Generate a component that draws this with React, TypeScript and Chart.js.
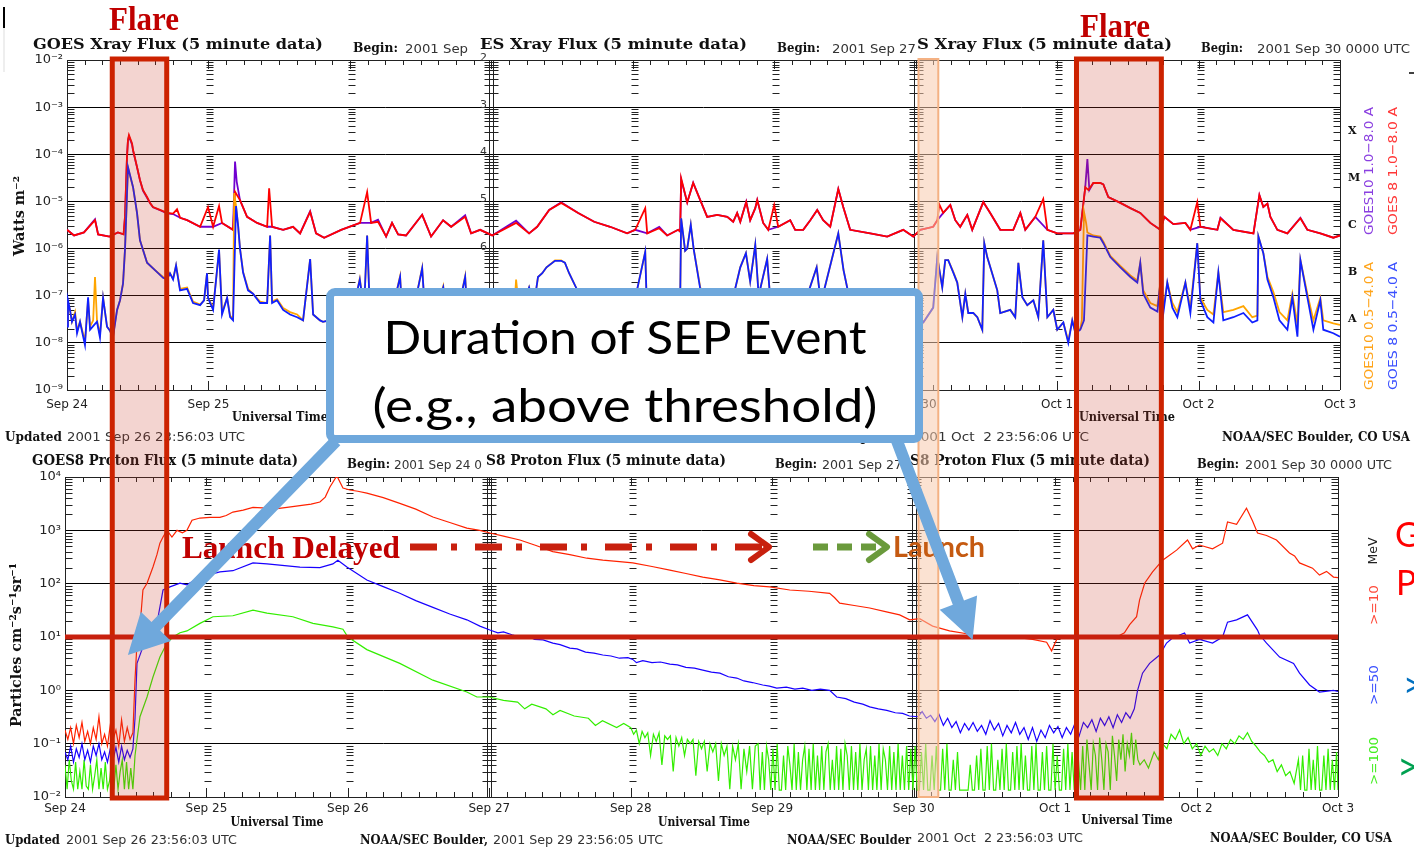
import React, { useEffect, useRef, useState } from 'react';
import { Chart, registerables } from 'chart.js';

Chart.register(...registerables);

type Pt = [number, number];

// ---------- axes / labels ----------
const dayTicks = [0, 1, 2, 3, 4, 5, 6, 7, 8, 9];
const dayLabels = ['Sep 24', 'Sep 25', 'Sep 26', 'Sep 27', 'Sep 28', 'Sep 29', 'Sep 30', 'Oct 1', 'Oct 2', 'Oct 3'];
const panelEdges = [0, 3, 6, 9];
const xrayDecades = [1e-9, 1e-8, 1e-7, 1e-6, 1e-5, 1e-4, 1e-3, 1e-2];
const xrayDecadeLabels = ['10⁻⁹', '10⁻⁸', '10⁻⁷', '10⁻⁶', '10⁻⁵', '10⁻⁴', '10⁻³', '10⁻²'];
const flareClassLevels = [3.16e-4, 3.16e-5, 3.16e-6, 3.16e-7, 3.16e-8];
const flareClassLabels = ['X', 'M', 'C', 'B', 'A'];
const protonDecades = [1e-2, 1e-1, 1, 10, 100, 1000, 1e4];
const protonDecadeLabels = ['10⁻²', '10⁻¹', '10⁰', '10¹', '10²', '10³', '10⁴'];

// ---------- annotation values (days since Sep 24 00 UT) ----------
const sepThreshold = 10;
const flareWindows: Pt[] = [[0.32, 0.705], [7.137, 7.737]];
const launchWindow: Pt = [6.02, 6.16];
const sepStart: Pt = [0.445, 4.6];
const sepEnd: Pt = [6.417, 8.8];

// ---------- GOES X-ray flux (W m^-2) ----------
const xrayG8Long: Pt[] = [
  [0, 2.5e-6], [0.05, 1.9e-6], [0.12, 2.2e-6], [0.198, 4.0e-6], [0.22, 2.0e-6], [0.3, 1.8e-6], [0.36, 2.2e-6], [0.4, 2.0e-6],
  [0.41, 4.7e-6], [0.424, 8.7e-5], [0.431, 2.0e-4], [0.438, 2.56e-4], [0.46, 1.7e-4], [0.467, 1.23e-4], [0.495, 5.4e-5],
  [0.516, 2.85e-5], [0.537, 1.75e-5], [0.566, 1.24e-5], [0.587, 9.3e-6], [0.608, 7.6e-6], [0.658, 6.6e-6], [0.707, 5.7e-6],
  [0.75, 5.5e-6], [0.778, 6.8e-6], [0.8, 4.5e-6], [0.849, 4.0e-6], [0.941, 2.9e-6], [0.997, 7.6e-6], [1.033, 2.9e-6],
  [1.075, 8.0e-6], [1.096, 3.5e-6], [1.174, 2.5e-6], [1.188, 1.6e-5], [1.223, 1.07e-5], [1.273, 4.7e-6], [1.344, 3.5e-6],
  [1.415, 2.9e-6], [1.429, 1.9e-5], [1.45, 2.9e-6], [1.528, 2.5e-6], [1.598, 2.9e-6], [1.648, 2.1e-6], [1.719, 6.0e-6],
  [1.761, 2.1e-6], [1.818, 1.7e-6], [1.938, 2.5e-6], [2.072, 3.5e-6], [2.122, 1.58e-5], [2.15, 3.5e-6], [2.199, 3.7e-6],
  [2.256, 1.8e-6], [2.298, 3.5e-6], [2.341, 2.0e-6], [2.397, 1.9e-6], [2.511, 5.2e-6], [2.574, 1.8e-6], [2.659, 4.0e-6],
  [2.716, 2.9e-6], [2.815, 4.7e-6], [2.857, 2.1e-6], [2.921, 2.5e-6], [3.006, 1.9e-6], [3.175, 3.5e-6], [3.267, 2.1e-6],
  [3.324, 2.9e-6], [3.409, 6.6e-6], [3.494, 9.3e-6], [3.614, 5.7e-6], [3.727, 3.7e-6], [3.84, 2.9e-6], [3.96, 2.1e-6],
  [4.017, 2.5e-6], [4.088, 7.2e-6], [4.102, 2.1e-6], [4.187, 2.7e-6], [4.243, 1.9e-6], [4.321, 2.5e-6], [4.335, 2.3e-6],
  [4.342, 3.1e-5], [4.385, 9.5e-6], [4.427, 2.46e-5], [4.477, 1.07e-5], [4.526, 4.7e-6], [4.597, 5.2e-6], [4.668, 4.7e-6],
  [4.71, 3.7e-6], [4.738, 5.7e-6], [4.76, 3.7e-6], [4.802, 9.7e-6], [4.83, 4.0e-6], [4.866, 7.2e-6], [4.88, 1.07e-5],
  [4.922, 3.5e-6], [4.958, 2.5e-6], [5.0, 8.4e-6], [5.028, 2.9e-6], [5.113, 4.0e-6], [5.148, 2.5e-6], [5.205, 2.5e-6],
  [5.255, 4.0e-6], [5.304, 6.6e-6], [5.346, 4.0e-6], [5.396, 2.9e-6], [5.453, 1.84e-5], [5.488, 7.6e-6], [5.537, 2.5e-6],
  [5.679, 2.1e-6], [5.799, 1.8e-6], [5.912, 2.5e-6], [5.983, 1.8e-6], [6.032, 2.5e-6], [6.124, 2.9e-6], [6.153, 4.0e-6],
  [6.167, 8.6e-6], [6.195, 5.7e-6], [6.245, 8.4e-6], [6.28, 4.0e-6], [6.315, 2.9e-6], [6.365, 5.2e-6], [6.4, 2.5e-6],
  [6.478, 9.7e-6], [6.527, 5.7e-6], [6.598, 2.5e-6], [6.69, 2.5e-6], [6.74, 5.7e-6], [6.775, 2.5e-6], [6.846, 4.7e-6],
  [6.902, 1.12e-5], [6.931, 2.5e-6], [7.001, 2.1e-6], [7.115, 2.1e-6], [7.164, 2.5e-6], [7.199, 2.0e-5], [7.221, 1.75e-5],
  [7.256, 2.46e-5], [7.305, 2.46e-5], [7.327, 2.3e-5], [7.362, 1.24e-5], [7.447, 9.3e-6], [7.518, 7.2e-6], [7.588, 5.7e-6],
  [7.659, 3.5e-6], [7.73, 2.5e-6], [7.758, 4.7e-6], [7.822, 3.3e-6], [7.907, 3.5e-6], [7.942, 2.5e-6], [7.991, 9.7e-6],
  [8.013, 2.9e-6], [8.133, 2.5e-6], [8.155, 4.4e-6], [8.246, 2.5e-6], [8.388, 2.1e-6], [8.43, 1.37e-5], [8.458, 7.6e-6],
  [8.487, 9.0e-6], [8.508, 4.7e-6], [8.557, 2.5e-6], [8.628, 2.1e-6], [8.72, 4.4e-6], [8.769, 2.5e-6], [8.861, 2.1e-6],
  [8.953, 1.7e-6], [9.0, 1.9e-6],
];

const xrayG10Long: Pt[] = [
  [0, 2.5e-6], [0.05, 1.9e-6], [0.12, 2.2e-6], [0.198, 4.2e-6], [0.22, 2.0e-6], [0.3, 1.8e-6], [0.36, 2.2e-6], [0.4, 2.0e-6],
  [0.41, 4.7e-6], [0.424, 8.7e-5], [0.431, 2.0e-4], [0.438, 2.4e-4], [0.46, 1.6e-4], [0.467, 1.2e-4], [0.495, 5.3e-5],
  [0.516, 2.8e-5], [0.537, 1.7e-5], [0.566, 1.2e-5], [0.587, 9.2e-6], [0.608, 7.5e-6], [0.658, 6.5e-6], [0.707, 5.6e-6],
  [0.75, 5.4e-6], [0.8, 4.5e-6], [0.849, 4.0e-6], [0.941, 2.9e-6], [1.033, 2.9e-6], [1.096, 3.5e-6], [1.174, 2.5e-6],
  [1.188, 7.0e-5], [1.2, 2.6e-5], [1.223, 1.07e-5], [1.273, 4.7e-6], [1.344, 3.5e-6], [1.415, 2.9e-6], [1.45, 2.9e-6],
  [1.528, 2.5e-6], [1.598, 2.9e-6], [1.648, 2.1e-6], [1.719, 6.2e-6], [1.761, 2.1e-6], [1.818, 1.7e-6], [1.938, 2.5e-6],
  [2.072, 3.5e-6], [2.15, 3.5e-6], [2.199, 4.1e-6], [2.256, 1.8e-6], [2.298, 3.5e-6], [2.341, 2.0e-6], [2.397, 1.9e-6],
  [2.511, 5.2e-6], [2.574, 1.8e-6], [2.659, 4.0e-6], [2.716, 2.9e-6], [2.815, 5.1e-6], [2.857, 2.1e-6], [2.921, 2.5e-6],
  [3.006, 1.9e-6], [3.175, 3.9e-6], [3.267, 2.1e-6], [3.324, 2.9e-6], [3.409, 6.6e-6], [3.494, 9.6e-6], [3.614, 5.7e-6],
  [3.727, 3.7e-6], [3.84, 2.9e-6], [3.96, 2.1e-6], [4.017, 2.5e-6], [4.102, 2.1e-6], [4.187, 2.9e-6], [4.243, 1.9e-6],
  [4.321, 2.5e-6], [4.335, 2.3e-6], [4.342, 2.9e-5], [4.385, 9.5e-6], [4.427, 2.5e-5], [4.477, 1.07e-5], [4.526, 4.7e-6],
  [4.597, 5.2e-6], [4.668, 4.7e-6], [4.71, 3.7e-6], [4.738, 5.7e-6], [4.76, 3.7e-6], [4.802, 9.9e-6], [4.83, 4.0e-6],
  [4.866, 7.2e-6], [4.88, 1.07e-5], [4.922, 3.5e-6], [4.958, 2.5e-6], [5.028, 2.9e-6], [5.113, 4.0e-6], [5.148, 2.5e-6],
  [5.205, 2.5e-6], [5.255, 4.0e-6], [5.304, 6.6e-6], [5.346, 4.0e-6], [5.396, 2.9e-6], [5.453, 1.84e-5], [5.488, 7.6e-6],
  [5.537, 2.5e-6], [5.679, 2.1e-6], [5.799, 1.8e-6], [5.912, 2.5e-6], [5.983, 1.8e-6], [6.032, 2.5e-6], [6.124, 2.9e-6],
  [6.153, 4.0e-6], [6.195, 5.7e-6], [6.245, 8.4e-6], [6.28, 4.0e-6], [6.315, 2.9e-6], [6.365, 5.2e-6], [6.4, 2.5e-6],
  [6.478, 9.7e-6], [6.527, 5.7e-6], [6.598, 2.5e-6], [6.69, 2.5e-6], [6.74, 5.7e-6], [6.775, 2.5e-6], [6.846, 4.7e-6],
  [6.931, 2.5e-6], [7.001, 2.1e-6], [7.115, 2.1e-6], [7.164, 2.5e-6], [7.199, 2.0e-5], [7.214, 7.9e-5], [7.228, 1.75e-5],
  [7.256, 2.46e-5], [7.305, 2.46e-5], [7.327, 2.3e-5], [7.362, 1.24e-5], [7.447, 9.3e-6], [7.518, 7.2e-6], [7.588, 5.7e-6],
  [7.659, 3.5e-6], [7.73, 2.5e-6], [7.758, 4.7e-6], [7.822, 3.3e-6], [7.907, 3.5e-6], [7.942, 2.5e-6], [8.013, 2.9e-6],
  [8.133, 2.5e-6], [8.155, 4.5e-6], [8.246, 2.5e-6], [8.388, 2.1e-6], [8.43, 1.37e-5], [8.458, 7.6e-6], [8.487, 9.0e-6],
  [8.508, 4.7e-6], [8.557, 2.5e-6], [8.628, 2.1e-6], [8.72, 4.5e-6], [8.769, 2.5e-6], [8.861, 2.1e-6], [8.953, 1.7e-6],
  [9.0, 1.9e-6],
];

const xrayG8Short: Pt[] = [
  [0, 2.2e-8], [0.007, 8e-8], [0.021, 5e-8], [0.035, 2.8e-8], [0.057, 4e-8], [0.071, 1.6e-8], [0.092, 2.8e-8], [0.127, 9e-9],
  [0.149, 9.3e-8], [0.163, 1.9e-8], [0.212, 2.8e-8], [0.233, 1.3e-8], [0.255, 9e-8], [0.283, 2.2e-8], [0.304, 1.8e-8],
  [0.325, 1.3e-8], [0.354, 5e-8], [0.375, 8e-8], [0.396, 1.8e-7], [0.41, 9.5e-7], [0.431, 5.4e-5], [0.467, 2e-5],
  [0.495, 5.7e-6], [0.516, 1.5e-6], [0.566, 5e-7], [0.622, 3.5e-7], [0.679, 2.4e-7], [0.707, 2.2e-7], [0.728, 3e-7],
  [0.75, 2.2e-7], [0.771, 4.4e-7], [0.799, 1.3e-7], [0.849, 1.4e-7], [0.891, 7e-8], [0.941, 6.3e-8], [0.969, 8e-8],
  [0.99, 3e-7], [0.997, 9e-8], [1.033, 5e-8], [1.075, 9.5e-7], [1.096, 4e-8], [1.132, 9e-8], [1.153, 3.5e-8], [1.174, 3e-8],
  [1.195, 8e-6], [1.21, 3e-6], [1.223, 1e-6], [1.245, 3.1e-7], [1.28, 1.3e-7], [1.315, 1.1e-7], [1.365, 7e-8], [1.415, 7e-8],
  [1.436, 1.9e-6], [1.45, 7e-8], [1.485, 8e-8], [1.528, 5e-8], [1.577, 4e-8], [1.627, 3.5e-8], [1.669, 3e-8], [1.719, 6e-7],
  [1.74, 4e-8], [1.789, 3e-8], [1.81, 2.8e-8], [1.85, 3e-8], [1.9, 5e-8], [1.95, 3e-8], [2.0, 2.5e-8], [2.07, 2.2e-7],
  [2.1, 5e-8], [2.122, 1.9e-6], [2.14, 6e-8], [2.2, 4e-8], [2.3, 5e-8], [2.355, 2.5e-7], [2.37, 4e-8], [2.45, 5e-8],
  [2.511, 3.8e-7], [2.53, 5e-8], [2.6, 4e-8], [2.66, 1.5e-7], [2.68, 4e-8], [2.75, 3e-8], [2.815, 2.5e-7], [2.83, 4e-8],
  [2.9, 3e-8], [3.0, 3e-8], [3.1, 4e-8], [3.175, 1e-7], [3.2, 4e-8], [3.267, 1.5e-7], [3.3, 6e-8], [3.33, 2.5e-7],
  [3.36, 3e-7], [3.39, 4e-7], [3.45, 5.5e-7], [3.494, 5.5e-7], [3.52, 5e-7], [3.55, 3e-7], [3.614, 1.2e-7], [3.65, 6e-8],
  [3.72, 4e-8], [3.8, 5e-8], [3.9, 4e-8], [4.0, 5e-8], [4.088, 8.5e-7], [4.1, 5e-8], [4.2, 6e-8], [4.3, 7e-8], [4.335, 8e-8],
  [4.342, 4.4e-6], [4.37, 9e-7], [4.385, 1e-6], [4.41, 3.2e-6], [4.43, 1e-6], [4.477, 1.4e-7], [4.52, 8e-8], [4.6, 6e-8],
  [4.7, 7e-8], [4.76, 4e-7], [4.8, 8e-7], [4.83, 2e-7], [4.866, 1.2e-6], [4.89, 1e-7], [4.95, 6e-7], [4.97, 1e-7],
  [5.0, 8e-8], [5.1, 6e-8], [5.2, 5e-8], [5.3, 4e-7], [5.33, 7e-8], [5.453, 2.1e-6], [5.49, 3.5e-7], [5.52, 1.3e-7],
  [5.6, 5e-8], [5.7, 4e-8], [5.8, 5e-8], [5.9, 3e-8], [6.0, 3e-8], [6.054, 2.7e-8], [6.124, 5.6e-8], [6.153, 6.6e-7],
  [6.188, 1.5e-7], [6.209, 5.7e-7], [6.23, 5.7e-7], [6.266, 3.1e-7], [6.294, 1.9e-7], [6.33, 3.5e-8], [6.351, 1.1e-7],
  [6.372, 4.3e-8], [6.407, 4.3e-8], [6.436, 3.5e-8], [6.471, 1.9e-8], [6.485, 1.3e-6], [6.506, 6.6e-7], [6.577, 1.3e-7],
  [6.598, 4.3e-8], [6.669, 5e-8], [6.704, 3.5e-8], [6.726, 5e-7], [6.754, 9.3e-8], [6.789, 6.3e-8], [6.832, 8e-8],
  [6.867, 3.5e-8], [6.902, 1.5e-6], [6.931, 3.5e-8], [6.973, 5e-8], [7.001, 1.9e-8], [7.044, 2.7e-8], [7.079, 1e-8],
  [7.107, 3e-8], [7.129, 1.6e-8], [7.164, 1.9e-8], [7.19, 3e-8], [7.214, 1.9e-6], [7.256, 1.8e-6], [7.305, 1.7e-6],
  [7.327, 1.3e-6], [7.376, 6.6e-7], [7.447, 4e-7], [7.518, 2.5e-7], [7.567, 1.9e-7], [7.588, 5e-7], [7.609, 1.1e-7],
  [7.659, 5.6e-8], [7.709, 4.6e-8], [7.73, 1.9e-7], [7.751, 4.3e-8], [7.779, 1.9e-7], [7.815, 5.6e-8], [7.85, 3.5e-8],
  [7.907, 1.9e-7], [7.942, 4.3e-8], [7.991, 1.3e-6], [8.013, 8e-8], [8.062, 3.5e-8], [8.105, 2.7e-8], [8.14, 3.1e-7],
  [8.175, 3e-8], [8.246, 3.5e-8], [8.317, 4.3e-8], [8.38, 2.7e-8], [8.416, 3e-8], [8.423, 1.8e-6], [8.458, 8e-7],
  [8.487, 2.2e-7], [8.529, 9.3e-8], [8.572, 3e-8], [8.628, 1.9e-8], [8.663, 9.3e-8], [8.699, 1.35e-8], [8.72, 5.7e-7],
  [8.769, 9.3e-8], [8.812, 1.9e-8], [8.861, 8e-8], [8.882, 1.9e-8], [8.953, 1.6e-8], [9.0, 1.35e-8],
];

const xrayG10Short: Pt[] = [
  [0, 2.4e-8], [0.007, 7e-8], [0.021, 5e-8], [0.035, 2.8e-8], [0.057, 4.5e-8], [0.071, 1.8e-8], [0.092, 2.8e-8],
  [0.127, 1.1e-8], [0.149, 8e-8], [0.163, 2.2e-8], [0.185, 3e-8], [0.198, 2.5e-7], [0.212, 3e-8], [0.233, 1.5e-8],
  [0.255, 9e-8], [0.283, 2.2e-8], [0.304, 1.8e-8], [0.325, 1.4e-8], [0.354, 5e-8], [0.375, 8e-8], [0.396, 1.8e-7],
  [0.41, 9.5e-7], [0.431, 5.2e-5], [0.467, 2e-5], [0.495, 5.7e-6], [0.516, 1.5e-6], [0.566, 5e-7], [0.622, 3.5e-7],
  [0.679, 2.5e-7], [0.707, 2.3e-7], [0.728, 3e-7], [0.75, 2.3e-7], [0.771, 4.4e-7], [0.799, 1.4e-7], [0.849, 1.5e-7],
  [0.891, 7.5e-8], [0.941, 6.5e-8], [0.969, 8e-8], [0.99, 3e-7], [0.997, 9e-8], [1.033, 5.5e-8], [1.075, 9e-7],
  [1.096, 4.5e-8], [1.132, 9e-8], [1.153, 3.8e-8], [1.174, 3.2e-8], [1.182, 1.5e-5], [1.195, 8e-6], [1.21, 3e-6],
  [1.223, 1e-6], [1.245, 3.2e-7], [1.28, 1.4e-7], [1.315, 1.1e-7], [1.365, 7.5e-8], [1.415, 7e-8], [1.436, 1.9e-6],
  [1.45, 7.5e-8], [1.485, 8.5e-8], [1.528, 5.5e-8], [1.577, 4.5e-8], [1.627, 4e-8], [1.669, 3e-8], [1.719, 6e-7],
  [1.74, 4e-8], [1.789, 3e-8], [1.81, 2.8e-8], [1.85, 3e-8], [1.9, 5e-8], [1.95, 3e-8], [2.0, 2.5e-8], [2.07, 2.3e-7],
  [2.1, 5e-8], [2.122, 1.9e-6], [2.14, 6e-8], [2.2, 4e-8], [2.3, 5e-8], [2.355, 2.6e-7], [2.37, 4e-8], [2.45, 5e-8],
  [2.511, 3.9e-7], [2.53, 5e-8], [2.6, 4e-8], [2.66, 1.6e-7], [2.68, 4e-8], [2.75, 3e-8], [2.815, 2.6e-7], [2.83, 4e-8],
  [2.9, 3e-8], [3.0, 3e-8], [3.1, 4e-8], [3.16, 4e-8], [3.175, 2.2e-7], [3.2, 4e-8], [3.267, 1.5e-7], [3.3, 6e-8],
  [3.33, 2.5e-7], [3.36, 3e-7], [3.39, 4e-7], [3.45, 5.6e-7], [3.494, 5.6e-7], [3.52, 5e-7], [3.55, 3e-7], [3.614, 1.2e-7],
  [3.65, 6e-8], [3.72, 4e-8], [3.8, 5e-8], [3.9, 4e-8], [4.0, 5e-8], [4.088, 8.5e-7], [4.1, 5e-8], [4.2, 6e-8], [4.3, 7e-8],
  [4.335, 8e-8], [4.342, 4.4e-6], [4.37, 9e-7], [4.385, 1e-6], [4.41, 3.2e-6], [4.43, 1e-6], [4.477, 1.5e-7], [4.52, 8e-8],
  [4.6, 6e-8], [4.7, 7e-8], [4.76, 4e-7], [4.8, 8e-7], [4.83, 2e-7], [4.866, 1.2e-6], [4.89, 1e-7], [4.95, 6e-7],
  [4.97, 1e-7], [5.0, 8e-8], [5.1, 6e-8], [5.2, 5e-8], [5.3, 4e-7], [5.33, 7e-8], [5.453, 2.1e-6], [5.49, 3.5e-7],
  [5.52, 1.3e-7], [5.6, 5e-8], [5.7, 4e-8], [5.8, 5e-8], [5.9, 3e-8], [6.0, 3e-8], [6.054, 2.7e-8], [6.124, 5.6e-8],
  [6.153, 6.6e-7], [6.188, 1.5e-7], [6.209, 5.7e-7], [6.23, 5.7e-7], [6.266, 3.2e-7], [6.294, 1.9e-7], [6.33, 3.5e-8],
  [6.351, 1.1e-7], [6.372, 4.3e-8], [6.407, 4.3e-8], [6.436, 3.5e-8], [6.471, 1.9e-8], [6.485, 1.3e-6], [6.506, 6.6e-7],
  [6.577, 1.3e-7], [6.598, 4.3e-8], [6.669, 5e-8], [6.704, 3.5e-8], [6.726, 5e-7], [6.754, 9.3e-8], [6.789, 6.3e-8],
  [6.832, 8e-8], [6.867, 3.5e-8], [6.902, 1.5e-6], [6.931, 3.5e-8], [6.973, 5e-8], [7.001, 1.9e-8], [7.044, 2.7e-8],
  [7.079, 1.1e-8], [7.107, 3e-8], [7.129, 1.7e-8], [7.164, 2e-8], [7.175, 3e-8], [7.19, 6e-6], [7.205, 3.5e-6],
  [7.214, 2.2e-6], [7.256, 1.9e-6], [7.305, 1.8e-6], [7.327, 1.4e-6], [7.376, 7e-7], [7.447, 4.3e-7], [7.518, 2.7e-7],
  [7.567, 2.1e-7], [7.588, 5e-7], [7.609, 1.3e-7], [7.659, 7e-8], [7.709, 6e-8], [7.73, 1.9e-7], [7.751, 5.5e-8],
  [7.779, 1.9e-7], [7.815, 7e-8], [7.85, 4.5e-8], [7.907, 1.9e-7], [7.942, 5.5e-8], [7.991, 1.3e-6], [8.013, 9e-8],
  [8.062, 5e-8], [8.105, 4e-8], [8.14, 3.1e-7], [8.175, 4.5e-8], [8.246, 5e-8], [8.317, 6e-8], [8.38, 3.5e-8],
  [8.416, 3.8e-8], [8.423, 1.8e-6], [8.458, 8e-7], [8.487, 2.5e-7], [8.529, 1.2e-7], [8.572, 4.5e-8], [8.628, 3e-8],
  [8.663, 1.1e-7], [8.699, 2.5e-8], [8.72, 5.7e-7], [8.769, 1.1e-7], [8.812, 3e-8], [8.861, 9e-8], [8.882, 3e-8],
  [8.953, 2.6e-8], [9.0, 2.4e-8],
];

// ---------- GOES-8 integral proton flux (pfu) ----------
const protonGe10: Pt[] = [
  [0, 0.18], [0.02, 0.12], [0.04, 0.2], [0.06, 0.1], [0.08, 0.22], [0.1, 0.13], [0.12, 0.25], [0.14, 0.11], [0.16, 0.17],
  [0.18, 0.1], [0.2, 0.2], [0.22, 0.12], [0.24, 0.32], [0.26, 0.1], [0.28, 0.15], [0.3, 0.09], [0.32, 0.22], [0.34, 0.12],
  [0.36, 0.18], [0.38, 0.09], [0.4, 0.28], [0.42, 0.11], [0.44, 0.2], [0.46, 0.12], [0.48, 0.16], [0.495, 1.6],
  [0.509, 7.7], [0.53, 15.5], [0.551, 76], [0.58, 102], [0.622, 205], [0.65, 350], [0.671, 575], [0.693, 750],
  [0.721, 1000], [0.756, 750], [0.792, 1000], [0.83, 900], [0.862, 1000], [0.898, 1550], [0.954, 1700], [1.025, 1750],
  [1.095, 1750], [1.14, 1900], [1.187, 2200], [1.26, 2400], [1.329, 2700], [1.428, 2600], [1.5, 2550], [1.569, 2700],
  [1.661, 2900], [1.74, 3100], [1.802, 3400], [1.84, 4200], [1.873, 6500], [1.922, 10500], [1.965, 6200], [2.014, 5700],
  [2.07, 5400], [2.134, 5000], [2.25, 4100], [2.367, 3200], [2.48, 2500], [2.601, 1780], [2.72, 1400], [2.841, 1100],
  [2.933, 1000], [3.004, 890], [3.1, 780], [3.216, 660], [3.33, 520], [3.449, 400], [3.569, 350], [3.69, 300],
  [3.802, 276], [3.92, 260], [4.014, 245], [4.15, 210], [4.276, 180], [4.39, 155], [4.509, 133], [4.63, 118],
  [4.749, 102], [4.87, 92], [4.982, 87], [5.124, 76], [5.26, 72], [5.406, 66], [5.44, 55], [5.477, 43], [5.58, 39],
  [5.689, 35], [5.8, 30], [5.901, 26], [5.972, 21], [6.042, 22], [6.134, 16], [6.254, 13], [6.375, 11.5], [6.417, 10],
  [6.5, 10.5], [6.608, 9.5], [6.7, 10], [6.841, 9], [6.94, 8], [6.975, 5.5], [7.011, 9], [7.081, 10], [7.194, 10.6],
  [7.3, 9.8], [7.435, 10], [7.49, 12], [7.527, 17], [7.576, 24], [7.597, 49], [7.633, 102], [7.689, 166], [7.76, 276],
  [7.859, 425], [7.936, 660], [7.972, 450], [8.021, 530], [8.113, 450], [8.184, 575], [8.219, 1440], [8.283, 1300],
  [8.353, 2600], [8.396, 1500], [8.431, 890], [8.495, 800], [8.565, 660], [8.657, 376], [8.693, 330], [8.728, 245],
  [8.82, 195], [8.869, 145], [8.919, 170], [8.968, 133], [9.0, 130],
];

const protonGe50: Pt[] = [
  [0, 0.07], [0.02, 0.05], [0.04, 0.09], [0.06, 0.045], [0.08, 0.08], [0.1, 0.055], [0.12, 0.1], [0.14, 0.05],
  [0.16, 0.075], [0.18, 0.045], [0.2, 0.09], [0.22, 0.06], [0.24, 0.1], [0.26, 0.05], [0.28, 0.07], [0.3, 0.045],
  [0.32, 0.08], [0.34, 0.05], [0.36, 0.085], [0.38, 0.045], [0.4, 0.09], [0.42, 0.05], [0.44, 0.075], [0.46, 0.055],
  [0.48, 0.08], [0.495, 0.3], [0.509, 3.2], [0.544, 5.8], [0.58, 9], [0.65, 18], [0.693, 76], [0.742, 87], [0.813, 102],
  [0.862, 95], [0.954, 133], [1.095, 166], [1.187, 175], [1.329, 245], [1.428, 235], [1.661, 205], [1.802, 200],
  [1.894, 235], [1.929, 276], [1.993, 205], [2.134, 117], [2.25, 88], [2.367, 66], [2.48, 48], [2.601, 36], [2.72, 27],
  [2.841, 21], [2.933, 16], [3.004, 13.5], [3.06, 12], [3.1, 12.5], [3.16, 11], [3.216, 10], [3.27, 10.5], [3.32, 9],
  [3.38, 8.8], [3.449, 7.7], [3.5, 7.2], [3.569, 6.2], [3.62, 6.0], [3.68, 5.2], [3.74, 5.0], [3.802, 4.6], [3.86, 4.4],
  [3.92, 4.0], [3.98, 4.1], [4.014, 3.8], [4.04, 3.3], [4.085, 3.6], [4.15, 3.3], [4.21, 3.4], [4.276, 3.1], [4.33, 3.0],
  [4.39, 2.7], [4.45, 2.6], [4.509, 2.4], [4.57, 2.2], [4.63, 2.1], [4.69, 1.8], [4.749, 1.7], [4.8, 1.5], [4.86, 1.4],
  [4.933, 1.26], [4.98, 1.2], [5.032, 1.1], [5.1, 1.15], [5.16, 1.05], [5.216, 1.1], [5.28, 1.0], [5.34, 1.05],
  [5.406, 1.0], [5.456, 0.75], [5.52, 0.7], [5.58, 0.6], [5.64, 0.55], [5.689, 0.49], [5.75, 0.45], [5.81, 0.42],
  [5.87, 0.38], [5.922, 0.37], [5.97, 0.33], [6.03, 0.32], [6.06, 0.4], [6.09, 0.3], [6.12, 0.34], [6.15, 0.26],
  [6.18, 0.35], [6.21, 0.22], [6.24, 0.3], [6.27, 0.2], [6.3, 0.26], [6.33, 0.16], [6.36, 0.24], [6.39, 0.18],
  [6.42, 0.25], [6.45, 0.17], [6.48, 0.22], [6.51, 0.15], [6.54, 0.27], [6.57, 0.18], [6.6, 0.24], [6.63, 0.14],
  [6.66, 0.22], [6.69, 0.16], [6.72, 0.25], [6.75, 0.15], [6.78, 0.2], [6.81, 0.12], [6.84, 0.2], [6.87, 0.11],
  [6.9, 0.18], [6.93, 0.13], [6.96, 0.22], [6.99, 0.16], [7.02, 0.21], [7.05, 0.13], [7.08, 0.2], [7.11, 0.15],
  [7.14, 0.24], [7.17, 0.14], [7.2, 0.25], [7.23, 0.2], [7.26, 0.28], [7.29, 0.17], [7.32, 0.3], [7.35, 0.22],
  [7.38, 0.32], [7.41, 0.2], [7.44, 0.35], [7.47, 0.25], [7.5, 0.38], [7.53, 0.3], [7.56, 0.45], [7.583, 1.0],
  [7.618, 2.1], [7.668, 3.2], [7.739, 4.6], [7.788, 7.7], [7.83, 9.6], [7.915, 11.9], [7.951, 7.7], [8.021, 9],
  [8.113, 7.7], [8.184, 10], [8.219, 19], [8.283, 21], [8.36, 26], [8.431, 13.5], [8.445, 11], [8.495, 7.7],
  [8.587, 4.2], [8.686, 3.2], [8.728, 2.1], [8.799, 1.26], [8.869, 0.93], [8.968, 1.0], [9.0, 0.95],
];

const protonGe100: Pt[] = [
  [0, 0.04], [0.015, 0.014], [0.03, 0.05], [0.045, 0.02], [0.06, 0.014], [0.075, 0.045], [0.09, 0.014], [0.105, 0.03],
  [0.12, 0.014], [0.135, 0.05], [0.15, 0.016], [0.165, 0.014], [0.18, 0.04], [0.195, 0.014], [0.21, 0.025],
  [0.225, 0.05], [0.24, 0.014], [0.255, 0.035], [0.27, 0.014], [0.285, 0.045], [0.3, 0.014], [0.315, 0.02],
  [0.33, 0.05], [0.345, 0.014], [0.36, 0.04], [0.375, 0.014], [0.39, 0.03], [0.405, 0.05], [0.42, 0.014],
  [0.435, 0.045], [0.45, 0.014], [0.465, 0.035], [0.48, 0.014], [0.495, 0.06], [0.53, 0.32], [0.58, 0.75],
  [0.622, 1.78], [0.671, 4.2], [0.721, 7.7], [0.763, 10], [0.813, 12], [0.862, 13], [0.954, 18], [1.046, 24],
  [1.187, 25], [1.329, 32], [1.428, 28], [1.611, 24], [1.753, 18], [1.894, 15.5], [1.965, 14], [2.0, 10], [2.134, 5.8],
  [2.367, 3.2], [2.601, 1.55], [2.841, 0.93], [2.912, 0.75], [3.0, 0.75], [3.1, 0.65], [3.2, 0.6], [3.25, 0.45],
  [3.3, 0.55], [3.4, 0.45], [3.45, 0.35], [3.5, 0.42], [3.6, 0.33], [3.7, 0.3], [3.75, 0.22], [3.8, 0.27], [3.9, 0.2],
  [3.95, 0.24], [4.0, 0.2], [4.02, 0.15], [4.04, 0.18], [4.06, 0.1], [4.08, 0.17], [4.1, 0.13], [4.12, 0.16], [4.14, 0.06],
  [4.16, 0.15], [4.18, 0.11], [4.2, 0.16], [4.22, 0.04], [4.24, 0.14], [4.26, 0.12], [4.28, 0.14], [4.3, 0.03],
  [4.32, 0.13], [4.34, 0.09], [4.36, 0.13], [4.38, 0.06], [4.4, 0.12], [4.42, 0.1], [4.44, 0.12], [4.46, 0.025],
  [4.48, 0.11], [4.5, 0.08], [4.52, 0.11], [4.54, 0.03], [4.56, 0.1], [4.58, 0.07], [4.6, 0.1], [4.62, 0.02],
  [4.64, 0.1], [4.66, 0.06], [4.68, 0.09], [4.7, 0.014], [4.72, 0.09], [4.74, 0.05], [4.76, 0.1], [4.78, 0.014],
  [4.8, 0.08], [4.82, 0.03], [4.84, 0.09], [4.86, 0.014], [4.88, 0.09], [4.9, 0.1], [4.915, 0.0135], [4.93, 0.07],
  [4.945, 0.0135], [4.96, 0.09], [4.975, 0.05], [4.99, 0.0135], [5.005, 0.08], [5.02, 0.0135], [5.035, 0.1],
  [5.05, 0.0135], [5.065, 0.0135], [5.08, 0.06], [5.095, 0.0135], [5.11, 0.09], [5.125, 0.04], [5.14, 0.0135],
  [5.155, 0.1], [5.17, 0.0135], [5.185, 0.07], [5.2, 0.0135], [5.215, 0.05], [5.23, 0.09], [5.245, 0.0135],
  [5.26, 0.08], [5.275, 0.0135], [5.29, 0.1], [5.305, 0.0135], [5.32, 0.06], [5.335, 0.0135], [5.35, 0.09],
  [5.365, 0.0135], [5.38, 0.07], [5.395, 0.1], [5.41, 0.0135], [5.425, 0.05], [5.44, 0.0135], [5.455, 0.09],
  [5.47, 0.0135], [5.485, 0.08], [5.5, 0.0135], [5.515, 0.1], [5.53, 0.06], [5.545, 0.0135], [5.56, 0.09],
  [5.575, 0.0135], [5.59, 0.07], [5.605, 0.0135], [5.62, 0.1], [5.635, 0.0135], [5.65, 0.05], [5.665, 0.08],
  [5.68, 0.0135], [5.695, 0.09], [5.71, 0.0135], [5.725, 0.06], [5.74, 0.0135], [5.755, 0.1], [5.77, 0.0135],
  [5.785, 0.08], [5.8, 0.05], [5.815, 0.0135], [5.83, 0.09], [5.845, 0.0135], [5.86, 0.07], [5.875, 0.0135],
  [5.89, 0.1], [5.905, 0.0135], [5.92, 0.06], [5.935, 0.0135], [5.95, 0.09], [5.965, 0.0135], [5.98, 0.08],
  [5.995, 0.0135], [6.01, 0.09], [6.025, 0.0135], [6.04, 0.0135], [6.055, 0.07], [6.07, 0.0135], [6.085, 0.1],
  [6.1, 0.0135], [6.115, 0.0135], [6.13, 0.06], [6.145, 0.0135], [6.16, 0.09], [6.175, 0.0135], [6.19, 0.0135],
  [6.205, 0.08], [6.22, 0.0135], [6.235, 0.1], [6.25, 0.0135], [6.265, 0.0135], [6.28, 0.05], [6.295, 0.0135],
  [6.31, 0.07], [6.325, 0.0135], [6.385, 0.0135], [6.4, 0.04], [6.415, 0.0135], [6.43, 0.0135], [6.445, 0.06],
  [6.46, 0.0135], [6.475, 0.08], [6.49, 0.0135], [6.505, 0.0135], [6.52, 0.09], [6.535, 0.0135], [6.55, 0.1],
  [6.565, 0.0135], [6.58, 0.0135], [6.595, 0.05], [6.61, 0.0135], [6.625, 0.08], [6.64, 0.0135], [6.655, 0.1],
  [6.67, 0.0135], [6.685, 0.0135], [6.7, 0.07], [6.715, 0.0135], [6.73, 0.09], [6.745, 0.0135], [6.76, 0.1],
  [6.775, 0.0135], [6.79, 0.06], [6.805, 0.0135], [6.82, 0.0135], [6.835, 0.09], [6.85, 0.0135], [6.865, 0.1],
  [6.88, 0.0135], [6.895, 0.0135], [6.91, 0.07], [6.925, 0.0135], [6.94, 0.09], [6.955, 0.0135], [6.97, 0.0135],
  [6.985, 0.1], [7.0, 0.0135], [7.015, 0.06], [7.03, 0.0135], [7.045, 0.0135], [7.06, 0.08], [7.075, 0.0135],
  [7.09, 0.1], [7.105, 0.0135], [7.12, 0.07], [7.135, 0.0135], [7.15, 0.1], [7.165, 0.05], [7.18, 0.0135],
  [7.195, 0.09], [7.21, 0.0135], [7.225, 0.12], [7.24, 0.04], [7.255, 0.0135], [7.27, 0.1], [7.285, 0.06],
  [7.3, 0.0135], [7.315, 0.13], [7.33, 0.05], [7.345, 0.0135], [7.36, 0.1], [7.375, 0.07], [7.39, 0.0135],
  [7.405, 0.14], [7.42, 0.06], [7.435, 0.02], [7.45, 0.12], [7.465, 0.05], [7.48, 0.15], [7.495, 0.03], [7.51, 0.1],
  [7.525, 0.06], [7.54, 0.16], [7.555, 0.04], [7.57, 0.12], [7.585, 0.05], [7.6, 0.04], [7.63, 0.05], [7.66, 0.035],
  [7.7, 0.07], [7.73, 0.05], [7.76, 0.1], [7.79, 0.08], [7.82, 0.15], [7.85, 0.12], [7.88, 0.18], [7.91, 0.1],
  [7.94, 0.13], [7.97, 0.08], [8.0, 0.1], [8.03, 0.06], [8.06, 0.09], [8.09, 0.07], [8.12, 0.08], [8.15, 0.06],
  [8.18, 0.1], [8.21, 0.08], [8.24, 0.12], [8.27, 0.1], [8.3, 0.14], [8.33, 0.12], [8.36, 0.16], [8.39, 0.11],
  [8.42, 0.09], [8.45, 0.07], [8.48, 0.06], [8.51, 0.045], [8.54, 0.05], [8.57, 0.03], [8.6, 0.04], [8.63, 0.025],
  [8.66, 0.03], [8.69, 0.018], [8.72, 0.05], [8.735, 0.0135], [8.75, 0.06], [8.765, 0.0135], [8.78, 0.0135],
  [8.795, 0.08], [8.81, 0.0135], [8.825, 0.05], [8.84, 0.0135], [8.855, 0.09], [8.87, 0.0135], [8.885, 0.0135],
  [8.9, 0.06], [8.915, 0.0135], [8.93, 0.08], [8.945, 0.0135], [8.96, 0.05], [8.975, 0.0135], [8.99, 0.07],
  [9.0, 0.0135],
];

// ---------- styling ----------
const SANS = "'DejaVu Sans', sans-serif";
const SERIF = "'DejaVu Serif', serif";
const TIMES = "'Liberation Serif', 'Times New Roman', serif";
const CAL = "Lato, 'Open Sans', sans-serif";
const DARK_RED = '#C00000';
const ANNO_RED = '#C8200E';
const SKY = '#6FA8DC';

const ds = (label: string, pts: Pt[], color: string, width: number) => ({
  label,
  data: pts.map(([x, y]) => ({ x, y })),
  borderColor: color,
  backgroundColor: color,
  borderWidth: width,
  pointRadius: 0,
  fill: false,
  tension: 0,
});

const axisDecor = {
  id: 'axisDecor',
  beforeDatasetsDraw(chart: any) {
    const { ctx, chartArea: a, scales } = chart;
    const xs = scales.x;
    const ys = scales.y;
    const lo = Math.round(Math.log10(ys.min));
    const hi = Math.round(Math.log10(ys.max));
    ctx.save();
    ctx.strokeStyle = '#222';
    ctx.lineWidth = 1;
    ctx.beginPath();
    const last = dayTicks[dayTicks.length - 1];
    for (const d of dayTicks) {
      const px = Math.round(xs.getPixelForValue(d)) + 0.5;
      const edge = panelEdges.includes(d);
      const l = d === 0 ? 0 : edge ? 7 : 2;
      const r = d === last ? 0 : edge ? 7 : 5;
      for (let n = lo; n < hi; n++) {
        for (let k = 2; k <= 9; k++) {
          const py = Math.round(ys.getPixelForValue(k * Math.pow(10, n))) + 0.5;
          ctx.moveTo(px - l, py);
          ctx.lineTo(px + r, py);
        }
      }
      ctx.moveTo(px, a.bottom);
      ctx.lineTo(px, a.bottom - 9);
      ctx.moveTo(px, a.top);
      ctx.lineTo(px, a.top + 9);
    }
    for (let i = 1; i < last * 8; i++) {
      if (i % 8 === 0) continue;
      const px = Math.round(xs.getPixelForValue(i / 8)) + 0.5;
      ctx.moveTo(px, a.bottom);
      ctx.lineTo(px, a.bottom - 5);
      ctx.moveTo(px, a.top);
      ctx.lineTo(px, a.top + 5);
    }
    ctx.stroke();
    ctx.beginPath();
    for (const d of panelEdges) {
      const px = Math.round(xs.getPixelForValue(d)) + 0.5;
      if (d === 0 || d === last) {
        ctx.moveTo(px, a.top);
        ctx.lineTo(px, a.bottom);
      } else {
        ctx.moveTo(px - 2, a.top);
        ctx.lineTo(px - 2, a.bottom);
        ctx.moveTo(px + 2, a.top);
        ctx.lineTo(px + 2, a.bottom);
      }
    }
    const t = Math.round(a.top) + 0.5;
    const b = Math.round(a.bottom) + 0.5;
    ctx.moveTo(a.left, t);
    ctx.lineTo(a.right, t);
    ctx.moveTo(a.left, b);
    ctx.lineTo(a.right, b);
    ctx.stroke();
    ctx.restore();
  },
};

const xScale = (height: number, pad: number) => ({
  type: 'linear',
  min: 0,
  max: 9,
  grid: { display: false, drawTicks: false },
  border: { display: false },
  afterBuildTicks: (s: any) => { s.ticks = dayTicks.map((value) => ({ value })); },
  afterFit: (s: any) => { s.height = height; },
  ticks: {
    autoSkip: false, maxRotation: 0, padding: pad, color: '#222',
    font: { family: SANS, size: 12 },
    callback: (_v: any, i: number) => dayLabels[i],
  },
});

const logY = (min: number, max: number, vals: number[], labels: string[], width: number) => ({
  type: 'logarithmic',
  position: 'left',
  min,
  max,
  grid: { color: '#000', lineWidth: 1, drawTicks: false },
  border: { display: false },
  afterBuildTicks: (s: any) => { s.ticks = vals.map((value) => ({ value })); },
  afterFit: (s: any) => { s.width = width; },
  ticks: {
    padding: 4, color: '#222', font: { family: SANS, size: 13 },
    callback: (_v: any, i: number) => labels[i],
  },
});

function arrowPoints(x1: number, y1: number, x2: number, y2: number, shaft: number, headW: number, headL: number) {
  const dx = x2 - x1, dy = y2 - y1;
  const L = Math.hypot(dx, dy);
  const ux = dx / L, uy = dy / L, nx = -uy, ny = ux;
  const bx = x2 - ux * headL, by = y2 - uy * headL;
  const h = shaft / 2, H = headW / 2;
  const p = [
    [x1 + nx * h, y1 + ny * h], [bx + nx * h, by + ny * h], [bx + nx * H, by + ny * H], [x2, y2],
    [bx - nx * H, by - ny * H], [bx - nx * h, by - ny * h], [x1 - nx * h, y1 - ny * h],
  ];
  return p.map(([a, b]) => `${a.toFixed(1)},${b.toFixed(1)}`).join(' ');
}

const T = ({ x, y, s, size, fam, w = 'normal', fill = '#111', len, anchor = 'start', rot }: any) => (
  <text
    x={x} y={y} fontSize={size} fontFamily={fam} fontWeight={w} fill={fill} textAnchor={anchor}
    textLength={len} lengthAdjust={len ? 'spacingAndGlyphs' : undefined}
    transform={rot ? `rotate(${rot} ${x} ${y})` : undefined}
    style={{ whiteSpace: 'pre' }}
  >{s}</text>
);

export default function App() {
  const topRef = useRef<HTMLCanvasElement>(null);
  const botRef = useRef<HTMLCanvasElement>(null);
  const [g, setG] = useState<any>(null);

  useEffect(() => {
    const top = new Chart(topRef.current as HTMLCanvasElement, {
      type: 'line',
      data: {
        datasets: [
          ds('GOES 8 0.5-4.0 A', xrayG8Short, '#1020FF', 1.8),
          ds('GOES10 0.5-4.0 A', xrayG10Short, '#FFA500', 1.8),
          ds('GOES 8 1.0-8.0 A', xrayG8Long, '#FF0000', 1.8),
          ds('GOES10 1.0-8.0 A', xrayG10Long, '#7000D0', 1.8),
        ],
      },
      options: {
        animation: false, responsive: false, events: [],
        layout: { padding: { top: 60, left: 0, right: 54, bottom: 420 } },
        plugins: { legend: { display: false }, tooltip: { enabled: false } },
        scales: {
          x: xScale(40, 8),
          y: logY(1e-9, 1e-2, xrayDecades, xrayDecadeLabels, 67),
          y2: {
            type: 'logarithmic', position: 'right', min: 1e-9, max: 1e-2,
            grid: { display: false, drawTicks: false }, border: { display: false },
            afterBuildTicks: (s: any) => { s.ticks = flareClassLevels.map((value) => ({ value })); },
            afterFit: (s: any) => { s.width = 20; },
            ticks: {
              padding: 8, color: '#111', font: { family: SERIF, size: 11, weight: 'bold' },
              callback: (_v: any, i: number) => flareClassLabels[i],
            },
          },
        },
      } as any,
      plugins: [axisDecor],
    } as any);

    const bot = new Chart(botRef.current as HTMLCanvasElement, {
      type: 'line',
      data: {
        datasets: [
          ds('>=10 MeV', protonGe10, '#FF2200', 1.2),
          ds('>=50 MeV', protonGe50, '#1800FF', 1.2),
          ds('>=100 MeV', protonGe100, '#33EE00', 1.2),
        ],
      },
      options: {
        animation: false, responsive: false, events: [],
        layout: { padding: { top: 477, left: 0, right: 76, bottom: 23 } },
        plugins: { legend: { display: false }, tooltip: { enabled: false } },
        scales: {
          x: xScale(30, 5),
          y: logY(1e-2, 1e4, protonDecades, protonDecadeLabels, 65),
        },
      } as any,
      plugins: [axisDecor],
    } as any);

    const tx = top.scales.x as any;
    const ty = top.scales.y as any;
    const bx = bot.scales.x as any;
    const by = bot.scales.y as any;
    setG({
      flares: flareWindows.map(([a, b]) => [tx.getPixelForValue(a), tx.getPixelForValue(b)]),
      launch: [tx.getPixelForValue(launchWindow[0]), tx.getPixelForValue(launchWindow[1])],
      yTop: top.chartArea.top,
      yBot: bot.chartArea.bottom,
      thrY: by.getPixelForValue(sepThreshold),
      thrL: bot.chartArea.left,
      thrR: bot.chartArea.right,
      tip1: [bx.getPixelForValue(sepStart[0]), by.getPixelForValue(sepStart[1])],
      tip2: [bx.getPixelForValue(sepEnd[0]), by.getPixelForValue(sepEnd[1])],
      peekY: xrayDecades.slice(2).map((v) => ty.getPixelForValue(v)),
    });
    return () => { top.destroy(); bot.destroy(); };
  }, []);

  const peekLabels = ['7', '6', '5', '4', '3', '2'];

  return (
    <div style={{ position: 'fixed', left: 0, top: 0, width: 1414, height: 850, background: '#fff', overflow: 'hidden' }}>
      <canvas ref={topRef} width={1414} height={850} style={{ position: 'absolute', left: 0, top: 0 }} />
      <canvas ref={botRef} width={1414} height={850} style={{ position: 'absolute', left: 0, top: 0 }} />
      <svg width={1414} height={850} style={{ position: 'absolute', left: 0, top: 0, pointerEvents: 'none' }}>
        {/* ---- plot header / footer texts ---- */}
        <line x1={4} y1={7} x2={4} y2={28} stroke="#000" strokeWidth={2} />
        <line x1={4} y1={28} x2={4} y2={72} stroke="#ddd" strokeWidth={1} />
        <line x1={1409} y1={73} x2={1414} y2={73} stroke="#000" strokeWidth={1.5} />

        <T x={33} y={49} s="GOES Xray Flux (5 minute data)" size={14} fam={SERIF} w="bold" len={290} />
        <T x={353} y={52} s="Begin:" size={12} fam={SERIF} w="bold" len={45} />
        <T x={405} y={53} s="2001 Sep" size={13} fam={SANS} fill="#333" len={63} />
        <T x={480} y={49} s="ES Xray Flux (5 minute data)" size={14} fam={SERIF} w="bold" len={267} />
        <T x={777} y={52} s="Begin:" size={12} fam={SERIF} w="bold" len={43} />
        <T x={832} y={53} s="2001 Sep 27" size={13} fam={SANS} fill="#333" len={84} />
        <T x={917} y={49} s="S Xray Flux (5 minute data)" size={14} fam={SERIF} w="bold" len={255} />
        <T x={1201} y={52} s="Begin:" size={12} fam={SERIF} w="bold" len={42} />
        <T x={1257} y={53} s="2001 Sep 30 0000 UTC" size={13} fam={SANS} fill="#333" len={153} />
        {g && g.peekY.map((py: number, i: number) => (
          <T key={i} x={480} y={py + 1} s={peekLabels[i]} size={11} fam={SANS} fill="#333" />
        ))}

        <T x={24} y={216} s="Watts m⁻²" size={14} fam={SERIF} w="bold" anchor="middle" rot={-90} len={80} />
        <T x={280} y={421} s="Universal Time" size={12} fam={SERIF} w="bold" anchor="middle" len={96} />
        <T x={704} y={421} s="Universal Time" size={12} fam={SERIF} w="bold" anchor="middle" len={96} />
        <T x={1127} y={421} s="Universal Time" size={12} fam={SERIF} w="bold" anchor="middle" len={96} />
        <T x={5} y={441} s="Updated" size={12} fam={SERIF} w="bold" len={57} />
        <T x={67} y={441} s="2001 Sep 26 23:56:03 UTC" size={13} fam={SANS} fill="#333" len={178} />
        <T x={850} y={441} s="Updated" size={12} fam={SERIF} w="bold" len={57} />
        <T x={912} y={441} s="2001 Oct  2 23:56:06 UTC" size={13} fam={SANS} fill="#333" len={177} />
        <T x={1222} y={441} s="NOAA/SEC Boulder, CO USA" size={12} fam={SERIF} w="bold" len={188} />

        <T x={32} y={465} s="GOES8 Proton Flux (5 minute data)" size={14} fam={SERIF} w="bold" len={266} />
        <T x={347} y={468} s="Begin:" size={12} fam={SERIF} w="bold" len={43} />
        <T x={394} y={469} s="2001 Sep 24 0" size={13} fam={SANS} fill="#333" len={88} />
        <T x={486} y={465} s="S8 Proton Flux (5 minute data)" size={14} fam={SERIF} w="bold" len={240} />
        <T x={775} y={468} s="Begin:" size={12} fam={SERIF} w="bold" len={42} />
        <T x={822} y={469} s="2001 Sep 27" size={13} fam={SANS} fill="#333" len={80} />
        <T x={910} y={465} s="S8 Proton Flux (5 minute data)" size={14} fam={SERIF} w="bold" len={240} />
        <T x={1197} y={468} s="Begin:" size={12} fam={SERIF} w="bold" len={42} />
        <T x={1245} y={469} s="2001 Sep 30 0000 UTC" size={13} fam={SANS} fill="#333" len={147} />

        <T x={21} y={645} s="Particles cm⁻²s⁻¹sr⁻¹" size={15} fam={SERIF} w="bold" anchor="middle" rot={-90} len={164} />
        <T x={277} y={826} s="Universal Time" size={12} fam={SERIF} w="bold" anchor="middle" len={93} />
        <T x={704} y={826} s="Universal Time" size={12} fam={SERIF} w="bold" anchor="middle" len={92} />
        <T x={1127} y={824} s="Universal Time" size={12} fam={SERIF} w="bold" anchor="middle" len={91} />
        <T x={5} y={844} s="Updated" size={12} fam={SERIF} w="bold" len={55} />
        <T x={66} y={844} s="2001 Sep 26 23:56:03 UTC" size={13} fam={SANS} fill="#333" len={171} />
        <T x={360} y={844} s="NOAA/SEC Boulder," size={12} fam={SERIF} w="bold" len={128} />
        <T x={493} y={844} s="2001 Sep 29 23:56:05 UTC" size={13} fam={SANS} fill="#333" len={170} />
        <T x={787} y={844} s="NOAA/SEC Boulder" size={12} fam={SERIF} w="bold" len={124} />
        <T x={917} y={842} s="2001 Oct  2 23:56:03 UTC" size={13} fam={SANS} fill="#333" len={166} />
        <T x={1210} y={842} s="NOAA/SEC Boulder, CO USA" size={12} fam={SERIF} w="bold" len={182} />

        {/* ---- right-side legends ---- */}
        <T x={1373} y={171} s="GOES10 1.0−8.0 A" size={13} fam={SANS} fill="#8A3FE0" anchor="middle" rot={-90} len={128} />
        <T x={1397} y={171} s="GOES 8 1.0−8.0 A" size={13} fam={SANS} fill="#FF3838" anchor="middle" rot={-90} len={128} />
        <T x={1373} y={326} s="GOES10 0.5−4.0 A" size={13} fam={SANS} fill="#FFA41A" anchor="middle" rot={-90} len={128} />
        <T x={1397} y={326} s="GOES 8 0.5−4.0 A" size={13} fam={SANS} fill="#3A50FF" anchor="middle" rot={-90} len={128} />
        <T x={1377} y={551} s="MeV" size={12} fam={SANS} fill="#222" anchor="middle" rot={-90} len={27} />
        <T x={1378} y={605} s=">=10" size={13} fam={SANS} fill="#FF4A3A" anchor="middle" rot={-90} len={40} />
        <T x={1378} y={685} s=">=50" size={13} fam={SANS} fill="#3A50FF" anchor="middle" rot={-90} len={40} />
        <T x={1378} y={761} s=">=100" size={13} fam={SANS} fill="#44EE22" anchor="middle" rot={-90} len={48} />
        <T x={1395} y={547} s="G" size={34} fam={CAL} fill="#FF0000" />
        <T x={1396} y={595} s="P" size={34} fam={CAL} fill="#FF0000" />
        <T x={1403} y={697} s=">" size={34} fam={CAL} fill="#0070C0" />
        <T x={1397} y={780} s=">" size={38} fam={CAL} fill="#00A050" />

        {g && (
          <g>
            {/* flare windows and launch window */}
            {g.flares.map(([x1, x2]: number[], i: number) => (
              <rect key={i} x={x1} y={g.yTop - 1} width={x2 - x1} height={g.yBot - g.yTop + 2}
                fill="rgba(200,60,40,0.22)" stroke="#CC2200" strokeWidth={5} />
            ))}
            <rect x={g.launch[0]} y={g.yTop - 1} width={g.launch[1] - g.launch[0]} height={g.yBot - g.yTop + 1}
              fill="rgba(248,203,173,0.55)" stroke="#F4B183" strokeWidth={2} />
            {/* SEP threshold */}
            <line x1={g.thrL} y1={g.thrY} x2={g.thrR} y2={g.thrY} stroke={ANNO_RED} strokeWidth={5} />

            <T x={144} y={30} s="Flare" size={33} fam={TIMES} w="bold" fill={DARK_RED} anchor="middle" len={70} />
            <T x={1115} y={37} s="Flare" size={33} fam={TIMES} w="bold" fill={DARK_RED} anchor="middle" len={70} />

            <T x={182} y={558} s="Launch Delayed" size={31} fam={TIMES} w="bold" fill={DARK_RED} len={218} />
            <line x1={410} y1={547} x2={762} y2={547} stroke={ANNO_RED} strokeWidth={7} strokeDasharray="27 14 6 18" />
            <polyline points="751,534 769,547 751,560" fill="none" stroke={ANNO_RED} strokeWidth={6} strokeLinecap="round" strokeLinejoin="round" />
            <line x1={813} y1={547} x2={882} y2={547} stroke="#6A9A3C" strokeWidth={7} strokeDasharray="15 9" />
            <polyline points="869,534 887,547 869,560" fill="none" stroke="#6A9A3C" strokeWidth={6} strokeLinecap="round" strokeLinejoin="round" />
            <T x={893} y={557} s="Launch" size={28} fam={CAL} w="bold" fill="#C55A11" len={92} />

            {/* callout */}
            <rect x={330} y={292} width={589} height={147} rx={5} fill="#fff" stroke={SKY} strokeWidth={8} />
            <T x={625} y={354} s="Duration of SEP Event" size={46} fam={CAL} fill="#000" anchor="middle" len={483} />
            <T x={625} y={422} s="(e.g., above threshold)" size={46} fam={CAL} fill="#000" anchor="middle" len={505} />

            <polygon points={arrowPoints(336, 441, g.tip1[0], g.tip1[1], 12, 42, 40)} fill={SKY} />
            <polygon points={arrowPoints(897, 441, g.tip2[0], g.tip2[1], 12, 40, 40)} fill={SKY} />
          </g>
        )}
      </svg>
    </div>
  );
}
